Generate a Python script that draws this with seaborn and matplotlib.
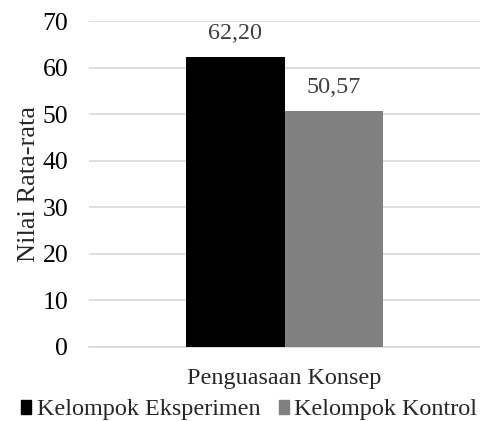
import matplotlib
matplotlib.use("Agg")
import matplotlib.pyplot as plt
import seaborn as sns
import pandas as pd
from matplotlib.patches import Patch

categories = ["Penguasaan Konsep"]
groups = ["Kelompok Eksperimen", "Kelompok Kontrol"]
values = [62.20, 50.57]
value_labels = ["62,20", "50,57"]
yticks = [0, 10, 20, 30, 40, 50, 60, 70]

sns.set_theme(style="white")
plt.rcParams['font.family'] = ['Liberation Serif', 'DejaVu Serif']

FS = 17.4
df = pd.DataFrame({"cat": categories * len(groups), "grp": groups, "val": values})
colors = ["#000000", "#808080"]

fig = plt.figure(figsize=(4.81, 4.21), dpi=100)
ax = fig.add_axes([0.185, 0.176, 0.813, 0.774])
sns.barplot(data=df, x="cat", y="val", hue="grp", palette=colors, width=0.505,
            saturation=1, ax=ax, legend=False, linewidth=0, zorder=3)
ax.set_ylim(0, 70)
ax.set_yticks(yticks)
ax.set_yticklabels([str(t) for t in yticks], fontsize=18.5, color="#000000")
ax.tick_params(axis="y", length=0, pad=15)
ax.tick_params(axis="x", length=0, pad=15, labelsize=FS)
ax.yaxis.grid(True, color="#d9d9d9", linewidth=1.2, zorder=0)
ax.set_axisbelow(True)
for s in ["top", "right", "left"]:
    ax.spines[s].set_visible(False)
ax.spines["bottom"].set_color("#d9d9d9")
ax.spines["bottom"].set_linewidth(1.2)
ax.set_xlabel("")
ax.set_ylabel("Nilai Rata-rata", fontsize=19, labelpad=2)

for cont, lab in zip(ax.containers, value_labels):
    ax.bar_label(cont, labels=[lab], padding=9.5, fontsize=FS, color="#404040")

handles = [Patch(facecolor=c, edgecolor=c) for c in colors]
fig.legend(handles, groups, loc="lower center", bbox_to_anchor=(0.518, -0.05), ncol=2,
           frameon=False, fontsize=FS, handlelength=0.42, handleheight=0.5,
           handletextpad=0.22, columnspacing=0.75)

fig.savefig("out.png", dpi=100)
